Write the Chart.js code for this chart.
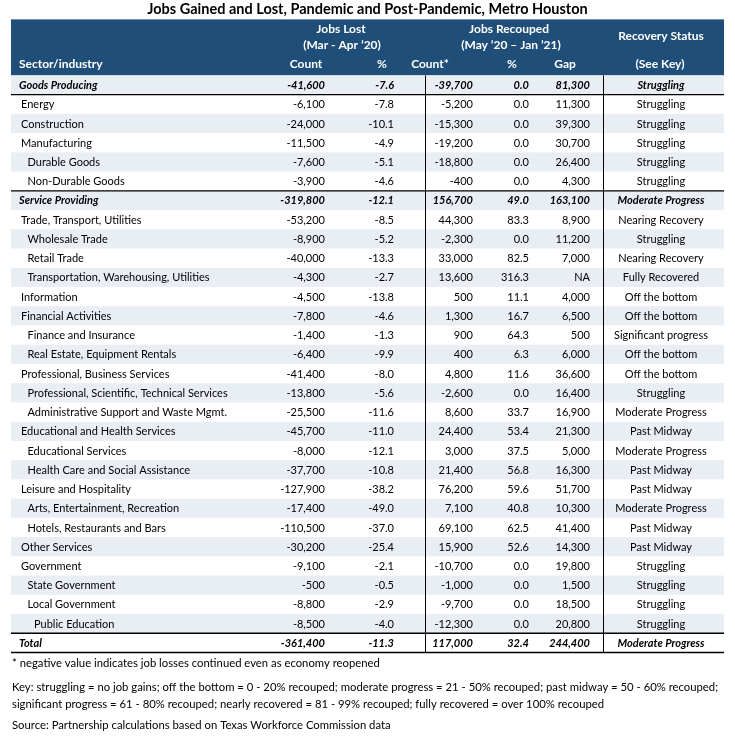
<!DOCTYPE html>
<html>
<head>
<meta charset="utf-8">
<script src="https://cdn.jsdelivr.net/npm/chart.js@4.4.0/dist/chart.umd.min.js"></script>
<style>
  html, body { margin: 0; padding: 0; background: #fff; }
  canvas { display: block; }
</style>
</head>
<body>
<canvas id="jobsChart" width="735" height="749"></canvas>
<script>
// table rows (sector/industry) and nesting level
const sectors = [
  'Goods Producing', 'Energy', 'Construction', 'Manufacturing', 'Durable Goods', 'Non-Durable Goods',
  'Service Providing', 'Trade, Transport, Utilities', 'Wholesale Trade', 'Retail Trade',
  'Transportation, Warehousing, Utilities', 'Information', 'Financial Activities', 'Finance and Insurance',
  'Real Estate, Equipment Rentals', 'Professional, Business Services', 'Professional, Scientific, Technical Services',
  'Administrative Support and Waste Mgmt.', 'Educational and Health Services', 'Educational Services',
  'Health Care and Social Assistance', 'Leisure and Hospitality', 'Arts, Entertainment, Recreation',
  'Hotels, Restaurants and Bars', 'Other Services', 'Government', 'State Government', 'Local Government',
  'Public Education', 'Total'
];
const levels = [0, 0, 0, 0, 1, 1, 0, 0, 1, 1, 1, 0, 0, 1, 1, 0, 1, 1, 0, 1, 1, 0, 1, 1, 0, 0, 1, 1, 2, 0];
const summaryRows = [0, 6, 29];

// Jobs Lost (Mar - Apr '20)
const lostCount = [-41600, -6100, -24000, -11500, -7600, -3900, -319800, -53200, -8900, -40000, -4300, -4500,
  -7800, -1400, -6400, -41400, -13800, -25500, -45700, -8000, -37700, -127900, -17400, -110500, -30200,
  -9100, -500, -8800, -8500, -361400];
const lostPct = [-7.6, -7.8, -10.1, -4.9, -5.1, -4.6, -12.1, -8.5, -5.2, -13.3, -2.7, -13.8, -4.6, -1.3, -9.9,
  -8.0, -5.6, -11.6, -11.0, -12.1, -10.8, -38.2, -49.0, -37.0, -25.4, -2.1, -0.5, -2.9, -4.0, -11.3];

// Jobs Recouped (May '20 - Jan '21)
const recoupCount = [-39700, -5200, -15300, -19200, -18800, -400, 156700, 44300, -2300, 33000, 13600, 500,
  1300, 900, 400, 4800, -2600, 8600, 24400, 3000, 21400, 76200, 7100, 69100, 15900, -10700, -1000, -9700,
  -12300, 117000];
const recoupPct = [0.0, 0.0, 0.0, 0.0, 0.0, 0.0, 49.0, 83.3, 0.0, 82.5, 316.3, 11.1, 16.7, 64.3, 6.3, 11.6,
  0.0, 33.7, 53.4, 37.5, 56.8, 59.6, 40.8, 62.5, 52.6, 0.0, 0.0, 0.0, 0.0, 32.4];
const gap = [81300, 11300, 39300, 30700, 26400, 4300, 163100, 8900, 11200, 7000, null, 4000, 6500, 500, 6000,
  36600, 16400, 16900, 21300, 5000, 16300, 51700, 10300, 41400, 14300, 19800, 1500, 18500, 20800, 244400];

const status = ['Struggling', 'Struggling', 'Struggling', 'Struggling', 'Struggling', 'Struggling',
  'Moderate Progress', 'Nearing Recovery', 'Struggling', 'Nearing Recovery', 'Fully Recovered',
  'Off the bottom', 'Off the bottom', 'Significant progress', 'Off the bottom', 'Off the bottom',
  'Struggling', 'Moderate Progress', 'Past Midway', 'Moderate Progress', 'Past Midway', 'Past Midway',
  'Moderate Progress', 'Past Midway', 'Past Midway', 'Struggling', 'Struggling', 'Struggling',
  'Struggling', 'Moderate Progress'];

const notes = [
  '* negative value indicates job losses continued even as economy reopened',
  'Key: struggling = no job gains; off the bottom = 0 - 20% recouped; moderate progress = 21 - 50% recouped; past midway = 50 - 60% recouped;',
  'significant progress = 61 - 80% recouped; nearly recovered = 81 - 99% recouped; fully recovered = over 100% recouped',
  'Source: Partnership calculations based on Texas Workforce Commission data'
];

const FONT = 'Lato, "Open Sans", sans-serif';
const headerBlue = '#1f4e79';
const stripe = '#e9edf4';

const fmtCount = v => v.toLocaleString('en-US');
const fmtPct = v => v.toFixed(1);

// column layout: x anchor and alignment
const columns = [
  { values: lostCount.map(fmtCount), x: 325, align: 'right' },
  { values: lostPct.map(fmtPct), x: 394, align: 'right' },
  { values: recoupCount.map(fmtCount), x: 473, align: 'right' },
  { values: recoupPct.map(fmtPct), x: 529, align: 'right' },
  { values: gap.map(v => v === null ? 'NA' : fmtCount(v)), x: 590, align: 'right' },
  { values: status, x: 661, align: 'center' }
];

const tablePlugin = {
  id: 'tablePlugin',
  afterDraw(chart) {
    const ctx = chart.ctx;
    const area = chart.chartArea;
    const yScale = chart.scales.y;
    const rowH = (area.bottom - area.top) / sectors.length;
    const w = area.right - area.left;
    ctx.save();

    // header band
    ctx.fillStyle = headerBlue;
    ctx.fillRect(area.left, area.top - 56, w, 56);
    ctx.fillStyle = '#fff';
    ctx.font = 'bold 12px ' + FONT;
    ctx.textBaseline = 'middle';
    ctx.textAlign = 'center';
    ctx.fillText('Jobs Lost', 341, area.top - 46.5);
    ctx.fillText('(Mar - Apr \u201920)', 342, area.top - 30);
    ctx.fillText('Jobs Recouped', 509, area.top - 46.5);
    ctx.fillText('(May \u201920 \u2013 Jan \u201921)', 511, area.top - 30);
    ctx.fillText('Recovery Status', 661, area.top - 39);
    ctx.fillText('Count', 306, area.top - 11);
    ctx.fillText('%', 382, area.top - 11);
    ctx.fillText('Count*', 430, area.top - 11);
    ctx.fillText('%', 512, area.top - 11);
    ctx.fillText('Gap', 565, area.top - 11);
    ctx.fillText('(See Key)', 660, area.top - 11);
    ctx.textAlign = 'left';
    ctx.fillText('Sector/industry', 19, area.top - 11);

    // striped rows
    sectors.forEach((s, i) => {
      if (i % 2 === 0) {
        const y = yScale.getPixelForValue(i);
        ctx.fillStyle = stripe;
        ctx.fillRect(area.left, y - rowH / 2, w, rowH);
      }
    });

    // cell text
    ctx.fillStyle = '#000';
    sectors.forEach((s, i) => {
      const y = yScale.getPixelForValue(i) + 0.5;
      const summary = summaryRows.includes(i);
      ctx.font = (summary ? 'italic bold ' : '') + '11px ' + FONT;
      ctx.textAlign = 'left';
      ctx.fillText(s, summary ? 19 : 21 + levels[i] * 6.5, y);
      columns.forEach(col => {
        ctx.textAlign = col.align;
        ctx.fillText(col.values[i], col.x, y);
      });
    });

    // rules
    ctx.strokeStyle = '#000';
    ctx.lineWidth = 1.3;
    const edge = i => yScale.getPixelForValue(i) - rowH / 2;
    [edge(1), edge(6), edge(29), area.bottom].forEach(y => {
      ctx.beginPath();
      ctx.moveTo(area.left, y);
      ctx.lineTo(area.right, y);
      ctx.stroke();
    });
    ctx.lineWidth = 1;
    [425.5, 603.5].forEach(x => {
      ctx.beginPath();
      ctx.moveTo(x, area.top);
      ctx.lineTo(x, area.bottom);
      ctx.stroke();
    });

    // notes
    ctx.font = '11.3px ' + FONT;
    ctx.textAlign = 'left';
    ctx.fillStyle = '#000';
    ctx.fillText(notes[0], 12, area.bottom + 11);
    ctx.fillText(notes[1], 12, area.bottom + 35);
    ctx.fillText(notes[2], 12, area.bottom + 52);
    ctx.fillText(notes[3], 12, area.bottom + 73);
    ctx.restore();
  }
};

const chart = new Chart(document.getElementById('jobsChart'), {
  type: 'bar',
  data: {
    labels: sectors,
    datasets: [{
      label: 'Jobs Lost',
      data: lostCount,
      backgroundColor: 'rgba(0,0,0,0)',
      borderWidth: 0
    }]
  },
  options: {
    indexAxis: 'y',
    responsive: false,
    animation: false,
    layout: { padding: { left: 11, right: 11, top: 0, bottom: 96.5 } },
    scales: {
      x: { display: false },
      y: { display: false, offset: true }
    },
    plugins: {
      legend: { display: false },
      tooltip: { enabled: false },
      title: {
        display: true,
        text: 'Jobs Gained and Lost, Pandemic and Post-Pandemic, Metro Houston',
        color: '#000',
        font: { family: FONT, size: 14.5, weight: 'bold' },
        padding: { top: 1, bottom: 57 }
      }
    }
  },
  plugins: [tablePlugin]
});
</script>
</body>
</html>
